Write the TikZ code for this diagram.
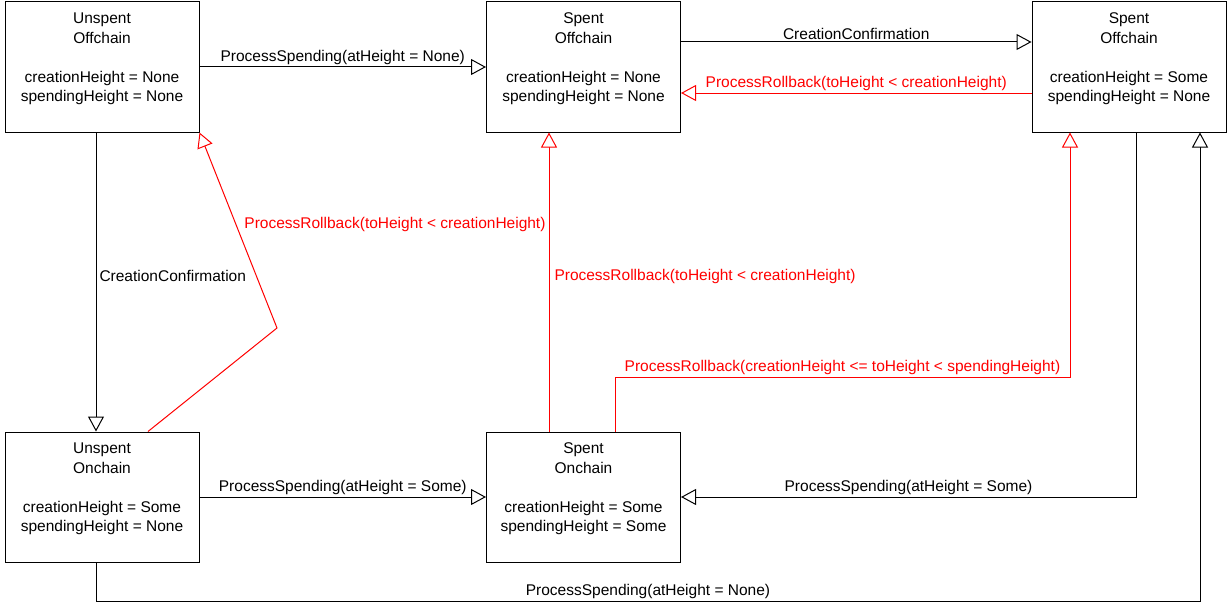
\documentclass[tikz,border=0pt]{standalone}
\usepackage{fontspec}
\setmainfont{Liberation Sans}
\usepackage{xcolor}
\usepackage{tikz}
\usetikzlibrary{arrows.meta}
\definecolor{ink}{HTML}{000000}
\definecolor{undo}{HTML}{FF0000}
\newcommand{\utxo}[4]{#1\\#2\\[19.5pt]creationHeight = #3\\spendingHeight = #4\\\mbox{}}

\begin{document}
\begin{tikzpicture}[x=1pt, y=1pt, font=\fontsize{15.5}{19.5}\selectfont]
  \tikzset{
    state/.style={draw=ink, line width=1pt, minimum width=194pt,
      minimum height=130pt, align=center, inner sep=0pt},
    move/.style={draw=ink, line width=1pt,
      -{Triangle[open, length=15pt, width=16pt, fill=white]}},
    rollback/.style={move, draw=undo, text=undo},
    tag/.style={inner sep=2pt}
  }
  \useasboundingbox (0,0) rectangle (1228,-602);

  \node[state] (unspentOff) at (102,-67)   {\utxo{Unspent}{Offchain}{None}{None}};
  \node[state] (spentOff)   at (583.5,-67) {\utxo{Spent}{Offchain}{None}{None}};
  \node[state] (spentConf)  at (1129,-67)  {\utxo{Spent}{Offchain}{Some}{None}};
  \node[state] (unspentOn)  at (102,-497)  {\utxo{Unspent}{Onchain}{Some}{None}};
  \node[state] (spentOn)    at (583.5,-497){\utxo{Spent}{Onchain}{Some}{Some}};

  % spending
  \draw[move] (unspentOff) -- node[tag, above] {ProcessSpending(atHeight = None)} (spentOff);
  \draw[move] (unspentOn) -- node[tag, above] {ProcessSpending(atHeight = Some)} (spentOn);
  \draw[move] ([xshift=7pt]spentConf.south) |-
    node[tag, above, pos=0.75] {ProcessSpending(atHeight = Some)} (spentOn.east);
  \draw[move] ([xshift=-6pt]unspentOn.south) -- ++(0,-38.5) -|
    node[tag, above, pos=0.25] {ProcessSpending(atHeight = None)} ([xshift=71pt]spentConf.south);

  % confirmation
  \draw[move] ([yshift=25pt]spentOff.east) --
    node[tag, above] {CreationConfirmation} ([yshift=25pt]spentConf.west);
  \draw[move] ([xshift=-6pt]unspentOff.south) --
    node[tag, right, pos=0.48, xshift=1pt] {CreationConfirmation} ([xshift=-6pt]unspentOn.north);

  % rollbacks
  \draw[rollback] ([yshift=-26pt]spentConf.west) --
    node[tag, above] {ProcessRollback(toHeight < creationHeight)} ([yshift=-26pt]spentOff.east);
  \coordinate (kink) at (277,-328);
  \draw[rollback] ([xshift=46pt]unspentOn.north) -- (kink) --
    node[tag, right, pos=0.53, xshift=6pt] {ProcessRollback(toHeight < creationHeight)} (unspentOff.south east);
  \draw[rollback] ([xshift=-34.5pt]spentOn.north) --
    node[tag, right, pos=0.52, xshift=3pt] {ProcessRollback(toHeight < creationHeight)} ([xshift=-34.5pt]spentOff.south);
  \draw[rollback] ([xshift=31.5pt]spentOn.north) -- ++(0,54) -|
    node[tag, above, pos=0.25] {ProcessRollback(creationHeight <= toHeight < spendingHeight)}
    ([xshift=-59pt]spentConf.south);
\end{tikzpicture}
\end{document}
